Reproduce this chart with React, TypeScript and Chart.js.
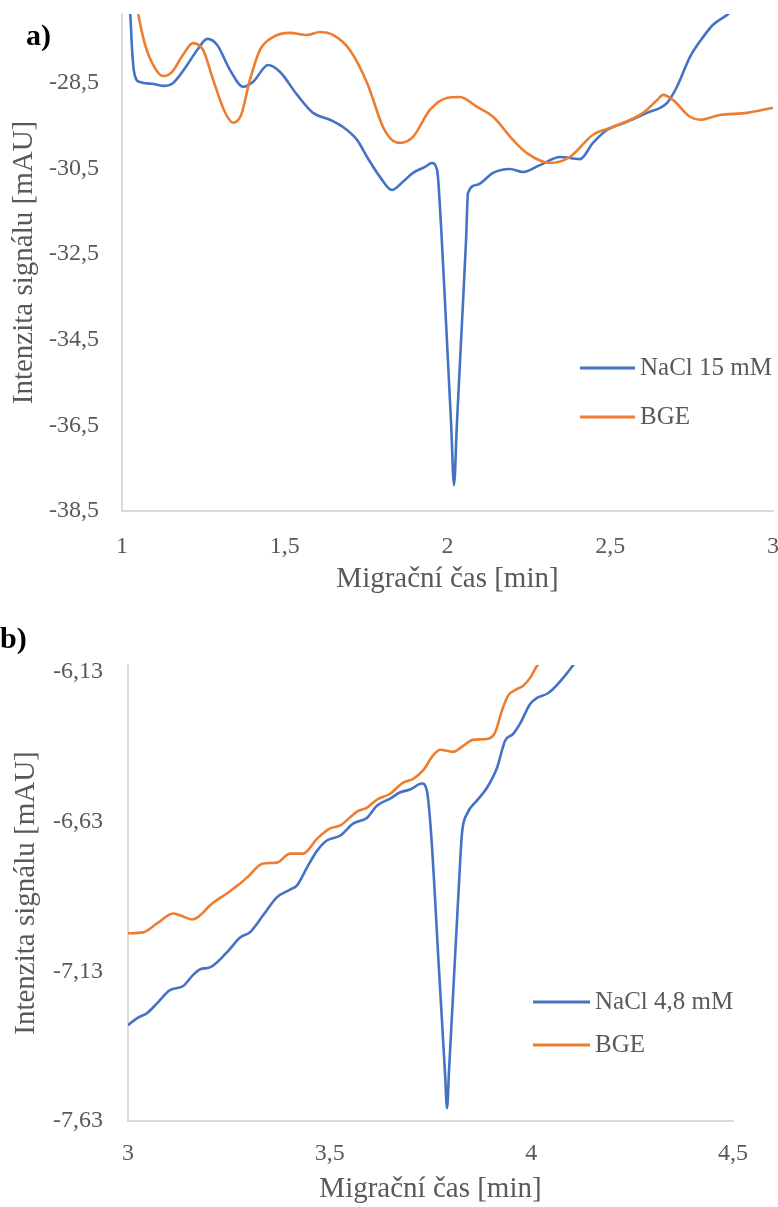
import React, { useEffect, useRef } from 'react';
import { Chart, registerables } from 'chart.js';

Chart.register(...registerables);

// ---------- Panel a) ----------
const timeA_NaCl = [1.006, 1.025, 1.031, 1.037, 1.055, 1.092, 1.126, 1.154, 1.194, 1.231, 1.262, 1.292, 1.332, 1.372, 1.402, 1.449, 1.485, 1.538, 1.587, 1.639, 1.679, 1.722, 1.753, 1.793, 1.829, 1.863, 1.894, 1.931, 1.952, 1.968, 1.980, 1.992, 2.011, 2.020, 2.029, 2.048, 2.057, 2.063, 2.091, 2.140, 2.192, 2.232, 2.284, 2.346, 2.407, 2.447, 2.490, 2.551, 2.613, 2.674, 2.705, 2.745, 2.785, 2.816, 2.859, 2.914];
const signalA_NaCl = [-26.33, -26.86, -27.73, -28.24, -28.48, -28.52, -28.57, -28.52, -28.15, -27.73, -27.47, -27.61, -28.20, -28.59, -28.48, -28.08, -28.24, -28.78, -29.20, -29.36, -29.53, -29.83, -30.23, -30.70, -31.00, -30.81, -30.60, -30.46, -30.37, -30.53, -31.82, -33.57, -36.44, -37.89, -36.44, -33.57, -32.17, -31.07, -30.88, -30.60, -30.51, -30.58, -30.42, -30.23, -30.28, -29.90, -29.60, -29.41, -29.20, -28.97, -28.59, -27.89, -27.43, -27.14, -26.91, -26.56];

const timeA_BGE = [1.037, 1.049, 1.071, 1.101, 1.126, 1.154, 1.187, 1.218, 1.249, 1.280, 1.316, 1.341, 1.366, 1.393, 1.424, 1.464, 1.516, 1.568, 1.608, 1.648, 1.700, 1.753, 1.802, 1.829, 1.854, 1.894, 1.946, 1.998, 2.038, 2.091, 2.140, 2.201, 2.244, 2.315, 2.376, 2.447, 2.508, 2.601, 2.644, 2.662, 2.693, 2.745, 2.776, 2.837, 2.920, 3.000];
const signalA_BGE = [-26.33, -26.86, -27.61, -28.15, -28.34, -28.24, -27.85, -27.57, -27.73, -28.43, -29.18, -29.43, -29.25, -28.43, -27.73, -27.43, -27.33, -27.38, -27.31, -27.38, -27.73, -28.50, -29.53, -29.83, -29.90, -29.76, -29.13, -28.85, -28.83, -29.06, -29.29, -29.83, -30.14, -30.37, -30.23, -29.71, -29.53, -29.20, -28.90, -28.78, -28.90, -29.29, -29.36, -29.25, -29.20, -29.08];

const xTicksA = [1, 1.5, 2, 2.5, 3];
const yTicksA = [-38.5, -36.5, -34.5, -32.5, -30.5, -28.5];
const yRangeA = [-38.5, -26.89];
const legendA = ['NaCl 15 mM', 'BGE'];

// ---------- Panel b) ----------
const timeB_NaCl = [3.000, 3.022, 3.047, 3.072, 3.104, 3.136, 3.161, 3.179, 3.203, 3.245, 3.278, 3.302, 3.335, 3.369, 3.402, 3.419, 3.444, 3.469, 3.493, 3.526, 3.558, 3.593, 3.617, 3.650, 3.674, 3.699, 3.729, 3.741, 3.751, 3.771, 3.786, 3.791, 3.796, 3.806, 3.821, 3.828, 3.841, 3.865, 3.890, 3.915, 3.935, 3.955, 3.972, 3.997, 4.014, 4.039, 4.054, 4.079, 4.108];
const signalB_NaCl = [-7.310, -7.287, -7.270, -7.237, -7.193, -7.180, -7.143, -7.123, -7.117, -7.067, -7.017, -7.000, -6.943, -6.883, -6.857, -6.843, -6.783, -6.727, -6.693, -6.677, -6.637, -6.617, -6.577, -6.553, -6.533, -6.523, -6.503, -6.527, -6.660, -7.123, -7.470, -7.587, -7.460, -7.207, -6.827, -6.670, -6.603, -6.560, -6.517, -6.450, -6.360, -6.337, -6.303, -6.237, -6.217, -6.203, -6.187, -6.150, -6.100];

const timeB_BGE = [3.000, 3.037, 3.072, 3.112, 3.129, 3.159, 3.179, 3.203, 3.245, 3.278, 3.295, 3.335, 3.369, 3.402, 3.434, 3.469, 3.501, 3.526, 3.568, 3.593, 3.617, 3.650, 3.682, 3.707, 3.731, 3.756, 3.774, 3.806, 3.831, 3.855, 3.893, 3.910, 3.927, 3.942, 3.965, 3.979, 3.997, 4.014, 4.022];
const signalB_BGE = [-7.003, -7.000, -6.970, -6.937, -6.943, -6.957, -6.943, -6.910, -6.870, -6.837, -6.817, -6.770, -6.767, -6.737, -6.737, -6.687, -6.653, -6.643, -6.597, -6.583, -6.557, -6.537, -6.500, -6.487, -6.460, -6.410, -6.390, -6.397, -6.377, -6.357, -6.353, -6.333, -6.260, -6.210, -6.187, -6.177, -6.150, -6.110, -6.100];

const xTicksB = [3, 3.5, 4, 4.5];
const yTicksB = [-7.63, -7.13, -6.63, -6.13];
const yRangeB = [-7.63, -6.107];
const legendB = ['NaCl 4,8 mM', 'BGE'];

const xTitle = 'Migrační čas [min]';
const yTitle = 'Intenzita signálu [mAU]';

const BLUE = '#4472C4';
const ORANGE = '#ED7D31';
const TEXT = '#595959';
const AXIS = '#D9D9D9';
const FONT = '"Liberation Serif", "Times New Roman", serif';

const fmt = (v: number) => String(v).replace('.', ',');
const zip = (xs: number[], ys: number[]) => xs.map((x, i) => ({ x, y: ys[i] }));

const insideLegend = {
  id: 'insideLegend',
  afterDatasetsDraw(chart: any, _args: any, opts: any) {
    const ctx = chart.ctx;
    ctx.save();
    chart.data.datasets.forEach((ds: any, i: number) => {
      const y = opts.y + i * opts.gap;
      ctx.strokeStyle = ds.borderColor;
      ctx.lineWidth = 3;
      ctx.beginPath();
      ctx.moveTo(opts.x, y);
      ctx.lineTo(opts.x + opts.lineLen, y);
      ctx.stroke();
      ctx.fillStyle = TEXT;
      ctx.font = `${opts.size}px ${FONT}`;
      ctx.textBaseline = 'middle';
      ctx.textAlign = 'left';
      ctx.fillText(ds.label, opts.x + opts.lineLen + 5, y);
    });
    ctx.restore();
  },
};

type PanelProps = {
  width: number;
  height: number;
  series: { label: string; data: { x: number; y: number }[]; color: string; order: number }[];
  xTicks: number[];
  yTicks: number[];
  xRange: number[];
  yRange: number[];
  yAxisWidth: number;
  xAxisHeight: number;
  padTop: number;
  padRight: number;
  xTickPad: number;
  yTickPad: number;
  xTitlePad: number;
  yTitlePad: number;
  legend: { x: number; y: number; gap: number; lineLen: number; size: number };
};

function Panel(p: PanelProps) {
  const ref = useRef<HTMLCanvasElement | null>(null);
  useEffect(() => {
    if (!ref.current) return;
    const chart = new Chart(ref.current, {
      type: 'line',
      data: {
        datasets: p.series.map((s) => ({
          label: s.label,
          data: s.data,
          borderColor: s.color,
          backgroundColor: s.color,
          borderWidth: 2.6,
          pointRadius: 0,
          pointHoverRadius: 0,
          fill: false,
          cubicInterpolationMode: 'monotone' as const,
          order: s.order,
          clip: 0,
        })),
      },
      plugins: [insideLegend],
      options: {
        animation: false,
        responsive: false,
        events: [],
        layout: { padding: { top: p.padTop, right: p.padRight, left: 0, bottom: 0 } },
        plugins: {
          legend: { display: false },
          tooltip: { enabled: false },
          insideLegend: p.legend,
        } as any,
        scales: {
          x: {
            type: 'linear',
            min: p.xRange[0],
            max: p.xRange[1],
            grid: { display: false, drawTicks: false },
            border: { display: true, color: AXIS, width: 2 },
            afterBuildTicks: (scale: any) => {
              scale.ticks = p.xTicks.map((v) => ({ value: v }));
            },
            afterFit: (scale: any) => {
              scale.height = p.xAxisHeight;
              scale.paddingLeft = 0;
              scale.paddingRight = 0;
            },
            ticks: {
              padding: p.xTickPad,
              color: TEXT,
              font: { family: FONT, size: 24 },
              maxRotation: 0,
              autoSkip: false,
              callback: (v: any) => fmt(Number(v)),
            },
            title: {
              display: true,
              text: xTitle,
              color: TEXT,
              font: { family: FONT, size: 29 },
              padding: { top: 0, bottom: p.xTitlePad },
            },
          },
          y: {
            type: 'linear',
            min: p.yRange[0],
            max: p.yRange[1],
            grid: { display: false, drawTicks: false },
            border: { display: true, color: AXIS, width: 2 },
            afterBuildTicks: (scale: any) => {
              scale.ticks = p.yTicks.map((v) => ({ value: v }));
            },
            afterFit: (scale: any) => {
              scale.width = p.yAxisWidth;
              scale.paddingTop = 0;
              scale.paddingBottom = 0;
            },
            ticks: {
              padding: p.yTickPad,
              color: TEXT,
              font: { family: FONT, size: 24 },
              autoSkip: false,
              callback: (v: any) => fmt(Number(v)),
            },
            title: {
              display: true,
              text: yTitle,
              color: TEXT,
              font: { family: FONT, size: 29 },
              padding: { top: p.yTitlePad, bottom: 0 },
            },
          },
        },
      } as any,
    });
    return () => chart.destroy();
  }, []);
  return <canvas ref={ref} width={p.width} height={p.height} style={{ display: 'block' }} />;
}

const labelStyle: React.CSSProperties = {
  position: 'absolute',
  fontFamily: FONT,
  fontWeight: 'bold',
  fontSize: 30,
  lineHeight: '30px',
  color: '#000',
  margin: 0,
};

export default function App() {
  return (
    <div style={{ position: 'absolute', left: 0, top: 0, width: 778, height: 1207, background: '#fff', overflow: 'hidden' }}>
      <div style={{ position: 'absolute', left: 0, top: 0 }}>
        <Panel
          width={778}
          height={605}
          series={[
            { label: legendA[0], data: zip(timeA_NaCl, signalA_NaCl), color: BLUE, order: 1 },
            { label: legendA[1], data: zip(timeA_BGE, signalA_BGE), color: ORANGE, order: 0 },
          ]}
          xTicks={xTicksA}
          yTicks={yTicksA}
          xRange={[1, 3]}
          yRange={yRangeA}
          yAxisWidth={122}
          xAxisHeight={94}
          padTop={14}
          padRight={5}
          xTickPad={21}
          yTickPad={23}
          xTitlePad={8}
          yTitlePad={7}
          legend={{ x: 580, y: 368, gap: 49, lineLen: 55, size: 25 }}
        />
      </div>
      <div style={{ position: 'absolute', left: 0, top: 605 }}>
        <Panel
          width={778}
          height={602}
          series={[
            { label: legendB[0], data: zip(timeB_NaCl, signalB_NaCl), color: BLUE, order: 1 },
            { label: legendB[1], data: zip(timeB_BGE, signalB_BGE), color: ORANGE, order: 0 },
          ]}
          xTicks={xTicksB}
          yTicks={yTicksB}
          xRange={[3, 4.5]}
          yRange={yRangeB}
          yAxisWidth={128}
          xAxisHeight={86}
          padTop={60}
          padRight={45}
          xTickPad={18}
          yTickPad={25}
          xTitlePad={0}
          yTitlePad={9}
          legend={{ x: 533, y: 397, gap: 43, lineLen: 57, size: 25 }}
        />
      </div>
      <div style={{ ...labelStyle, left: 26, top: 20 }}>a)</div>
      <div style={{ ...labelStyle, left: 0, top: 623 }}>b)</div>
    </div>
  );
}
